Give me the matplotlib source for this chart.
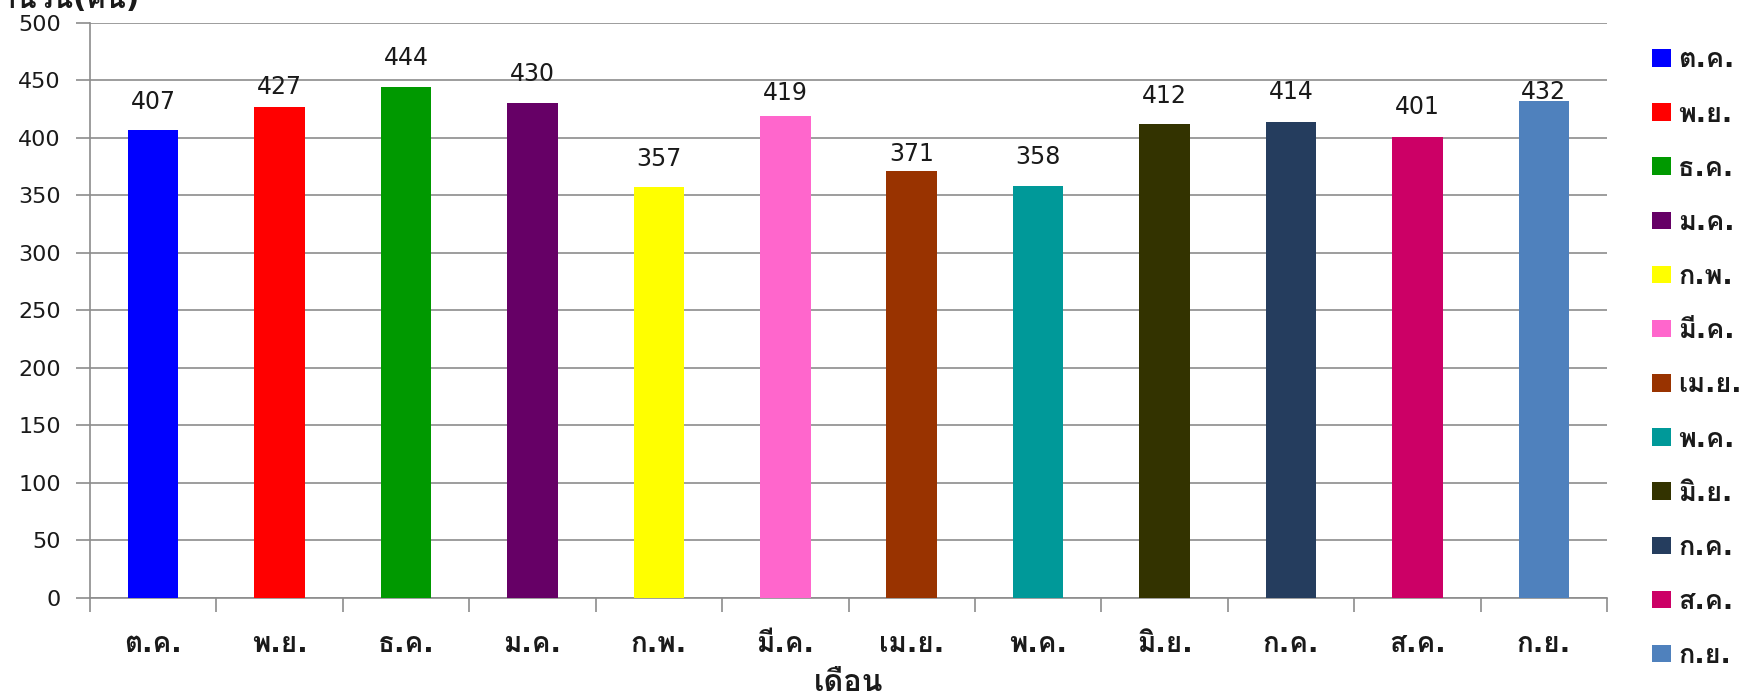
import matplotlib
matplotlib.use("Agg")
import matplotlib.pyplot as plt
from matplotlib.patches import Patch

months = ["ต.ค.", "พ.ย.", "ธ.ค.", "ม.ค.", "ก.พ.", "มี.ค.", "เม.ย.", "พ.ค.", "มิ.ย.", "ก.ค.", "ส.ค.", "ก.ย."]
values = [407, 427, 444, 430, 357, 419, 371, 358, 412, 414, 401, 432]
colors = ["#0000FF", "#FF0000", "#009900", "#660066", "#FFFF00", "#FF66CC",
          "#993300", "#009999", "#333300", "#253D5E", "#CC0066", "#4F81BD"]
yticks = [0, 50, 100, 150, 200, 250, 300, 350, 400, 450, 500]
# label gap above each bar, in points (style, matches manual label placement)
label_gap_pt = [15, 9, 16, 16, 15, 11.5, 7, 16, 15, 16, 16.5, 1.5]

plt.rcParams['font.family'] = ['DejaVu Sans', 'Loma']

W, H = 1741, 700
fig = plt.figure(figsize=(W / 100, H / 100), dpi=100)
ax = fig.add_axes([90 / W, (H - 598) / H, (1607 - 90) / W, (598 - 22.7) / H])

x = list(range(len(months)))
ax.bar(x, values, width=0.4, color=colors, zorder=3)
for xi, v, g in zip(x, values, label_gap_pt):
    ax.annotate(str(v), xy=(xi, v), xytext=(0, g), textcoords='offset points',
                ha='center', va='baseline', fontsize=17, color='#1a1a1a', zorder=4)

ax.set_xlim(-0.5, len(months) - 0.5)
ax.set_ylim(0, 500)
ax.set_yticks(yticks)
ax.set_yticklabels([str(t) for t in yticks], fontsize=16, color='#1a1a1a')
ax.yaxis.grid(True, color='#8c8c8c', linewidth=1.2, zorder=0)
ax.tick_params(axis='y', length=10, color='#8c8c8c', width=1.2, pad=11)

ax.set_xticks([i - 0.5 for i in range(len(months) + 1)], minor=False)
ax.set_xticklabels([])
ax.tick_params(axis='x', which='major', length=10, color='#8c8c8c', width=1.2, direction='out')
ax.set_xticks(x, minor=True)
ax.set_xticklabels(months, minor=True, fontsize=20, fontweight='bold', color='#1a1a1a')
ax.tick_params(axis='x', which='minor', length=0, pad=23)

for s in ['top', 'right']:
    ax.spines[s].set_visible(False)
for s in ['left', 'bottom']:
    ax.spines[s].set_color('#8c8c8c')
    ax.spines[s].set_linewidth(1.2)

ax.set_xlabel("เดือน", fontsize=22, fontweight='bold', labelpad=7, color='#1a1a1a')
fig.text(140 / W, 1 - 8 / H, "จำนวน(คน)", fontsize=21, fontweight='bold',
         ha='right', va='baseline', color='#1a1a1a')

handles = [Patch(facecolor=c, edgecolor='none') for c in colors]
leg = fig.legend(handles, months, loc='upper left', bbox_to_anchor=(1628 / W, 1 - 23 / H),
                 frameon=False, fontsize=19.5, labelspacing=1.04, handlelength=0.67,
                 handleheight=0.62, handletextpad=0.28)
for t in leg.get_texts():
    t.set_fontweight('bold')
    t.set_color('#1a1a1a')

fig.savefig("out.png", dpi=100)
